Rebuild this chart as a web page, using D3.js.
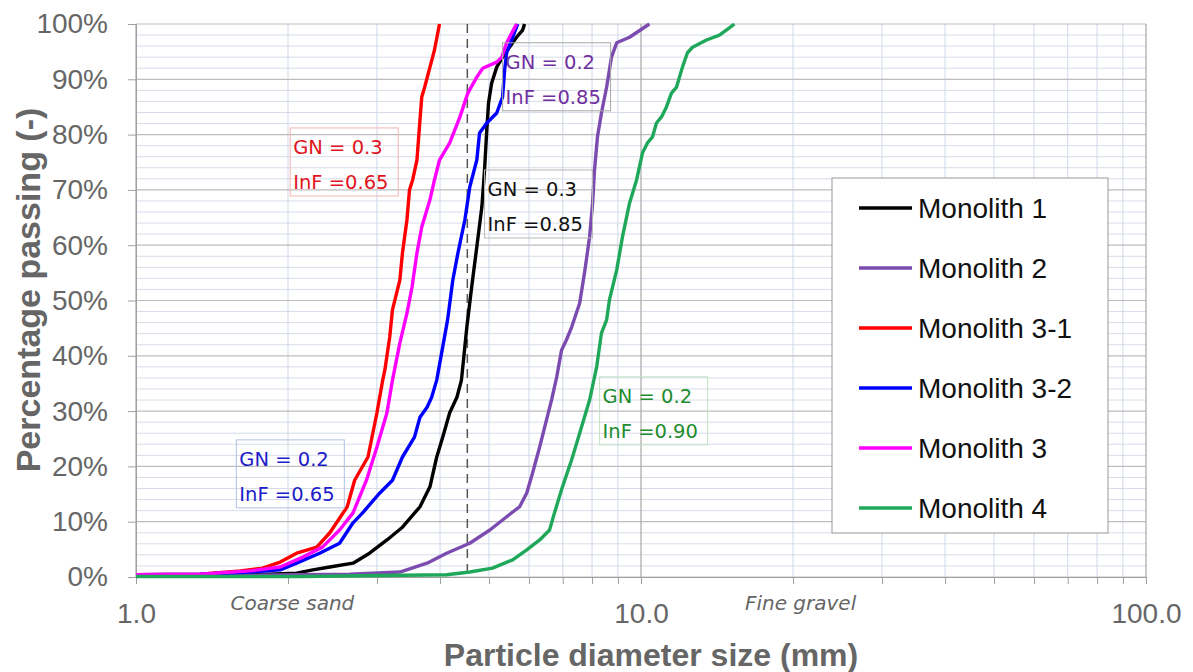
<!DOCTYPE html>
<html>
<head>
<meta charset="utf-8">
<script src="https://d3js.org/d3.v7.min.js"></script>
<style>
body{margin:0;background:#fff;}
</style>
</head>
<body>
<div class="chart"></div>
<script>
//series names + colours (legend order)
let names = ["Monolith 1", "Monolith 2", "Monolith 3-1", "Monolith 3-2", "Monolith 3", "Monolith 4"];
let colors = ["#000000", "#7b4bb0", "#ff0000", "#0000ff", "#ff00ff", "#1fa85a"];

//grading curves: [particle diameter (mm), % passing]
let mono1 = [[1.00,0.2],[1.68,0.4],[2.08,0.7],[2.24,1.3],[2.42,1.8],[2.69,2.5],[2.90,4.3],[3.14,6.7],[3.37,9.0],[3.65,12.7],[3.82,16.3],[3.94,21.7],[4.05,25.3],[4.18,29.7],[4.32,32.5],[4.41,35.6],[4.52,45.2],[4.62,52.4],[4.73,59.7],[4.84,66.9],[4.90,73.6],[4.95,80.8],[4.99,85.7],[5.06,89.3],[5.18,92.2],[5.32,94.0],[5.49,95.8],[5.67,97.6],[5.83,98.9],[5.88,100]];
let mono2 = [[1.00,0.2],[2.11,0.4],[2.65,0.5],[3.33,0.9],[3.77,2.5],[4.12,4.3],[4.58,6.1],[5.02,8.5],[5.42,10.9],[5.75,12.7],[5.94,15.2],[6.10,18.8],[6.30,23.5],[6.50,28.4],[6.65,32.0],[6.81,36.2],[6.96,41.0],[7.12,42.9],[7.29,45.2],[7.56,49.5],[7.73,55.0],[7.91,61.5],[8.02,67.6],[8.09,73.6],[8.20,79.6],[8.35,83.9],[8.55,88.6],[8.74,94.0],[8.95,96.6],[9.49,97.6],[10.39,100]];
let mono31 = [[1.00,0.4],[1.34,0.5],[1.61,1.1],[1.78,1.6],[1.93,2.7],[2.08,4.3],[2.28,5.4],[2.42,8.0],[2.62,12.7],[2.71,17.5],[2.88,21.7],[3.00,29.7],[3.08,35.6],[3.11,37.4],[3.18,43.4],[3.22,48.3],[3.33,53.7],[3.37,58.6],[3.44,64.6],[3.48,70.0],[3.53,71.8],[3.60,75.4],[3.65,82.6],[3.68,86.8],[3.73,88.6],[3.82,92.2],[3.90,95.3],[3.99,100]];
let mono32 = [[1.00,0.4],[1.34,0.5],[1.68,0.9],[1.93,1.3],[2.08,2.5],[2.31,4.3],[2.53,6.1],[2.69,9.8],[2.81,11.6],[3.04,15.2],[3.22,17.5],[3.37,21.7],[3.56,25.3],[3.65,28.9],[3.77,30.7],[3.85,32.5],[3.94,35.6],[4.14,46.5],[4.24,53.7],[4.34,58.6],[4.48,64.6],[4.58,70.5],[4.73,75.4],[4.79,80.3],[4.95,82.1],[5.18,83.9],[5.32,86.8],[5.37,91.7],[5.42,94.8],[5.57,97.6],[5.70,100]];
let mono3 = [[1.00,0.4],[1.34,0.5],[1.68,1.1],[1.93,1.8],[2.14,3.6],[2.34,5.4],[2.53,8.5],[2.69,11.6],[2.86,17.5],[3.00,23.5],[3.14,29.7],[3.22,35.6],[3.33,42.3],[3.44,47.7],[3.52,52.4],[3.60,58.6],[3.68,63.3],[3.82,68.2],[3.90,71.8],[3.99,75.4],[4.18,78.5],[4.38,83.2],[4.54,87.5],[4.73,90.4],[4.86,92.0],[5.18,93.1],[5.30,94.0],[5.42,96.6],[5.67,100]];
let mono4 = [[1.00,0.1],[2.11,0.1],[4.12,0.4],[4.58,0.9],[5.08,1.6],[5.57,3.1],[5.94,4.9],[6.30,6.7],[6.59,8.5],[6.74,11.6],[6.99,16.3],[7.29,21.2],[7.56,26.0],[7.91,32.0],[8.17,38.0],[8.35,44.1],[8.55,46.5],[8.66,50.1],[8.95,55.5],[9.19,61.5],[9.49,67.6],[9.80,71.8],[10.07,76.7],[10.30,78.5],[10.54,79.6],[10.73,82.1],[10.98,83.2],[11.23,85.0],[11.49,87.5],[11.76,88.6],[12.08,92.2],[12.36,94.8],[12.65,95.8],[13.48,97.1],[14.30,98.0],[14.96,99.3],[15.31,100]];
let series = [mono1, mono2, mono31, mono32, mono3, mono4];

//axis ticks
let yTicks = [0, 10, 20, 30, 40, 50, 60, 70, 80, 90, 100];
let xTicks = [1, 10, 100];
let xTickLabels = ["1.0", "10.0", "100.0"];

//fitted parameter boxes, anchored at top-left corner (mm, %)
let annoGN = ["0.3", "0.2", "0.3", "0.2", "0.2"];
let annoInF = ["0.65", "0.65", "0.85", "0.85", "0.90"];
let annoAt = [[2.02, 81.2], [1.58, 24.8], [4.90, 73.6], [5.32, 96.6], [8.28, 36.2]];
let annoColor = ["#e0141e", "#1c1cc8", "#111111", "#7030a0", "#1e8c2e"];
let annoBorder = ["#f3b4b4", "#b3bfe6", "#b8b8b8", "#a6a6a6", "#bfe3c4"];

//soil classes and boundary
let zoneNames = ["Coarse sand", "Fine gravel"];
let zoneAt = [2.04, 20.7];
let boundary = 4.53;

let svg = d3.select(".chart").append("svg")
    .attr("width", 1193)
    .attr("height", 672)
    .style("font-family", "'Liberation Sans', Arial, sans-serif");

let x = d3.scaleLog().domain([1, 100]).range([136, 1146]);
let y = d3.scaleLinear().domain([0, 100]).range([577, 24]);

let grid = svg.append("g");
//minor grid
grid.selectAll(".hmin").data(d3.range(0, 101, 2).filter(d => d % 10 !== 0)).enter().append("line")
    .attr("x1", 136).attr("x2", 1146)
    .attr("y1", d => y(d)).attr("y2", d => y(d))
    .attr("stroke", "#d6dce8").attr("stroke-width", 1);
grid.selectAll(".vmin").data(x.ticks().filter(d => xTicks.indexOf(d) < 0)).enter().append("line")
    .attr("x1", d => x(d)).attr("x2", d => x(d))
    .attr("y1", 24).attr("y2", 577)
    .attr("stroke", "#d0d8ea").attr("stroke-width", 1);
//major grid
grid.selectAll(".hmaj").data(yTicks).enter().append("line")
    .attr("x1", 136).attr("x2", 1146)
    .attr("y1", d => y(d)).attr("y2", d => y(d))
    .attr("stroke", "#bdbdbd").attr("stroke-width", 1.2);
grid.selectAll(".vmaj").data(xTicks).enter().append("line")
    .attr("x1", d => x(d)).attr("x2", d => x(d))
    .attr("y1", 24).attr("y2", 577)
    .attr("stroke", "#a8a8a8").attr("stroke-width", 1.2);

//axes
let yAxis = d3.axisLeft(y).tickValues(yTicks).tickSize(8).tickPadding(20).tickFormat(d => d + "%");
let ya = svg.append("g").attr("transform", "translate(136,0)").call(yAxis);
ya.select(".domain").attr("stroke", "#a0a0a0");
ya.selectAll("line").attr("stroke", "#a0a0a0");
ya.selectAll("text").style("font-size", "28px").attr("fill", "#666");

let xAxis = d3.axisBottom(x).tickValues(x.ticks()).tickSize(7).tickPadding(19)
    .tickFormat(d => xTicks.indexOf(d) >= 0 ? xTickLabels[xTicks.indexOf(d)] : "");
let xa = svg.append("g").attr("transform", "translate(0,577)").call(xAxis);
xa.select(".domain").attr("stroke", "#a0a0a0");
xa.selectAll("line").attr("stroke", "#a0a0a0");
xa.selectAll("text").style("font-size", "28px").attr("fill", "#666");

//axis titles
svg.append("text")
    .attr("x", 651).attr("y", 666)
    .attr("text-anchor", "middle")
    .style("font-size", "32px").style("font-weight", "bold")
    .attr("fill", "#666")
    .text("Particle diameter size (mm)");
svg.append("text")
    .attr("transform", "translate(40,290) rotate(-90)")
    .attr("text-anchor", "middle")
    .style("font-size", "34px").style("font-weight", "bold")
    .attr("fill", "#666")
    .text("Percentage passing (-)");

//soil class labels
svg.selectAll(".zone").data(zoneNames).enter().append("text")
    .attr("x", (d, i) => x(zoneAt[i])).attr("y", 610)
    .attr("text-anchor", "middle")
    .style("font-family", "'DejaVu Sans', sans-serif")
    .style("font-size", "20px").style("font-style", "italic")
    .attr("fill", "#666")
    .text(d => d);

//sand / gravel boundary
svg.append("line")
    .attr("x1", x(boundary)).attr("x2", x(boundary))
    .attr("y1", y(100)).attr("y2", y(0))
    .attr("stroke", "#555").attr("stroke-width", 1.5)
    .attr("stroke-dasharray", "9,6");

//curves
let line = d3.line().x(d => x(d[0])).y(d => y(d[1]));
svg.selectAll(".curve").data(series).enter().append("path")
    .attr("d", d => line(d))
    .attr("fill", "none")
    .attr("stroke", (d, i) => colors[i])
    .attr("stroke-width", 3.4)
    .attr("stroke-linejoin", "round");

//parameter boxes
let anno = svg.selectAll(".anno").data(annoGN).enter().append("g")
    .attr("transform", (d, i) => "translate(" + x(annoAt[i][0]) + "," + y(annoAt[i][1]) + ")");
anno.append("rect")
    .attr("width", 108).attr("height", 68)
    .attr("fill", "none")
    .attr("stroke", (d, i) => annoBorder[i]).attr("stroke-width", 1);
anno.append("text")
    .attr("x", 3).attr("y", 26)
    .style("font-family", "'DejaVu Sans', sans-serif").style("font-size", "19.5px")
    .attr("fill", (d, i) => annoColor[i])
    .text(d => "GN = " + d);
anno.append("text")
    .attr("x", 3).attr("y", 61)
    .style("font-family", "'DejaVu Sans', sans-serif").style("font-size", "19.5px")
    .attr("fill", (d, i) => annoColor[i])
    .text((d, i) => "InF =" + annoInF[i]);

//legend
let legend = svg.append("g").attr("transform", "translate(832,178)");
legend.append("rect")
    .attr("width", 276).attr("height", 355)
    .attr("fill", "#fff").attr("stroke", "#999").attr("stroke-width", 1);
let rows = legend.selectAll(".row").data(names).enter().append("g")
    .attr("transform", (d, i) => "translate(0," + (30 + i * 60) + ")");
rows.append("line")
    .attr("x1", 27).attr("x2", 80)
    .attr("stroke", (d, i) => colors[i]).attr("stroke-width", 3.5);
rows.append("text")
    .attr("x", 86).attr("dy", "0.36em")
    .style("font-size", "28px")
    .attr("fill", "#111")
    .text(d => d);
</script>
</body>
</html>
